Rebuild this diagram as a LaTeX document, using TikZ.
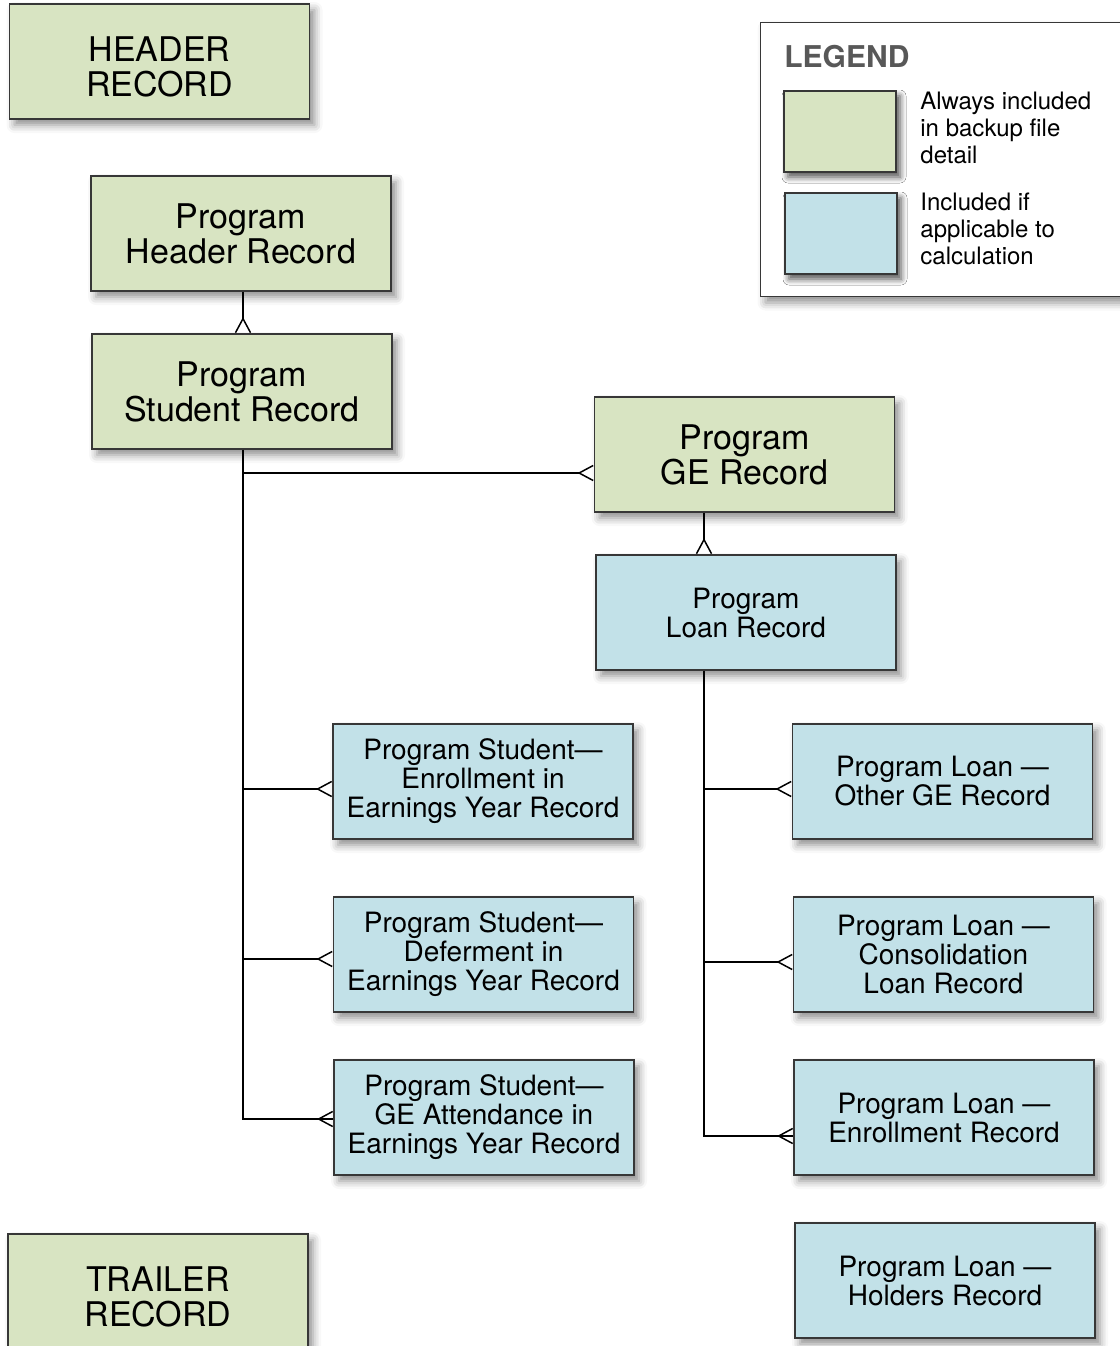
\documentclass[tikz,border=0pt]{standalone}
\usepackage{fontspec}
\setmainfont{TeX Gyre Heros}
\usetikzlibrary{arrows.meta,shadows.blur}
\definecolor{GreenClr}{RGB}{216,228,194}
\definecolor{BlueClr}{RGB}{194,225,232}
\definecolor{EdgeClr}{RGB}{55,55,55}
\definecolor{TitleClr}{RGB}{88,88,88}
\newcommand{\capsup}{\rule{0pt}{17.5pt}}

\begin{document}
\begin{tikzpicture}[x=0.5pt,y=-0.5pt,
  rec/.style={draw=EdgeClr,line width=0.6pt,minimum width=150pt,minimum height=57.5pt,
    inner sep=0pt,align=center,
    blur shadow={shadow xshift=2.5pt,shadow yshift=-3pt,shadow blur radius=4pt,shadow opacity=45}},
  big/.style={rec,fill=GreenClr,font=\fontsize{17}{17.5}\selectfont},
  small/.style={rec,fill=BlueClr,font=\fontsize{14}{14.5}\selectfont},
  swatch/.style={rec,minimum width=56pt,minimum height=40.5pt,
    blur shadow={shadow xshift=2pt,shadow yshift=-2.5pt,shadow blur radius=3pt,shadow opacity=40}},
  lgdtxt/.style={anchor=west,align=left,inner sep=0pt,font=\fontsize{12}{13.5}\selectfont},
  link/.style={line width=1pt,black},
  crow/.style={-{Straight Barb[reversed,length=7pt,width=7.5pt,line width=0.75pt]}}]
\clip (0,0) rectangle (1120,1346);

% Legende
\node[rec,fill=white,anchor=north west,minimum width=185pt,minimum height=137pt] (lgd) at (760,22) {};
\node[anchor=west,inner sep=0pt,text=TitleClr,font=\fontsize{15}{15}\bfseries] (lgdttl) at (784,57) {LEGEND};
\node[swatch,fill=GreenClr] (swgrn) at (840,131.5) {};
\node[swatch,fill=BlueClr] (swblu) at (841,233.5) {};
\node[lgdtxt] (txgrn) at (920,128) {Always included\\in backup file\\detail};
\node[lgdtxt] (txblu) at (920,229) {Included if\\applicable to\\calculation};

% Records
\node[big] (hdr) at (159.5,61.5) {\capsup HEADER\\RECORD};
\node[big] (pgmhdr) at (241,233.5) {Program\\Header Record};
\node[big] (stu) at (242,391.5) {Program\\Student Record};
\node[big] (ge) at (744.5,454.5) {Program\\GE Record};
\node[small] (loan) at (746,612.5) {Program\\Loan Record};
\node[small] (enr) at (483,781.5) {Program Student—\\Enrollment in\\Earnings Year Record};
\node[small] (dfr) at (483.5,954.5) {Program Student—\\Deferment in\\Earnings Year Record};
\node[small] (att) at (484,1117.5) {Program Student—\\GE Attendance in\\Earnings Year Record};
\node[small] (othge) at (942.5,781.5) {Program Loan —\\Other GE Record};
\node[small] (cons) at (943.5,954.5) {Program Loan —\\Consolidation\\Loan Record};
\node[small] (lenr) at (944,1117.5) {Program Loan —\\Enrollment Record};
\node[small] (hold) at (945,1280.5) {Program Loan —\\Holders Record};
\node[big] (trl) at (158,1291.5) {\capsup TRAILER\\RECORD};

% Verbindungen
\coordinate (lx) at (243,0);
\coordinate (rx) at (704,0);
\draw[link,crow] (pgmhdr.south -| lx) -- (stu.north -| lx);
\draw[link,crow] (ge.south -| rx) -- (loan.north -| rx);

\foreach \n/\dy in {ge/-9.25pt,enr/-3.75pt,dfr/-2.25pt,att/-0.75pt}
  \coordinate (e\n) at ([yshift=\dy]\n.west);
\draw[link] (stu.south -| lx) |- (eatt);
\foreach \n in {ge,enr,dfr,att}
  \draw[link,crow] (lx |- e\n) -- (e\n);

\foreach \n/\dy in {othge/-3.75pt,cons/-3.75pt,lenr/-9.25pt}
  \coordinate (e\n) at ([yshift=\dy]\n.west);
\draw[link] (loan.south -| rx) |- (elenr);
\foreach \n in {othge,cons,lenr}
  \draw[link,crow] (rx |- e\n) -- (e\n);

\end{tikzpicture}
\end{document}
